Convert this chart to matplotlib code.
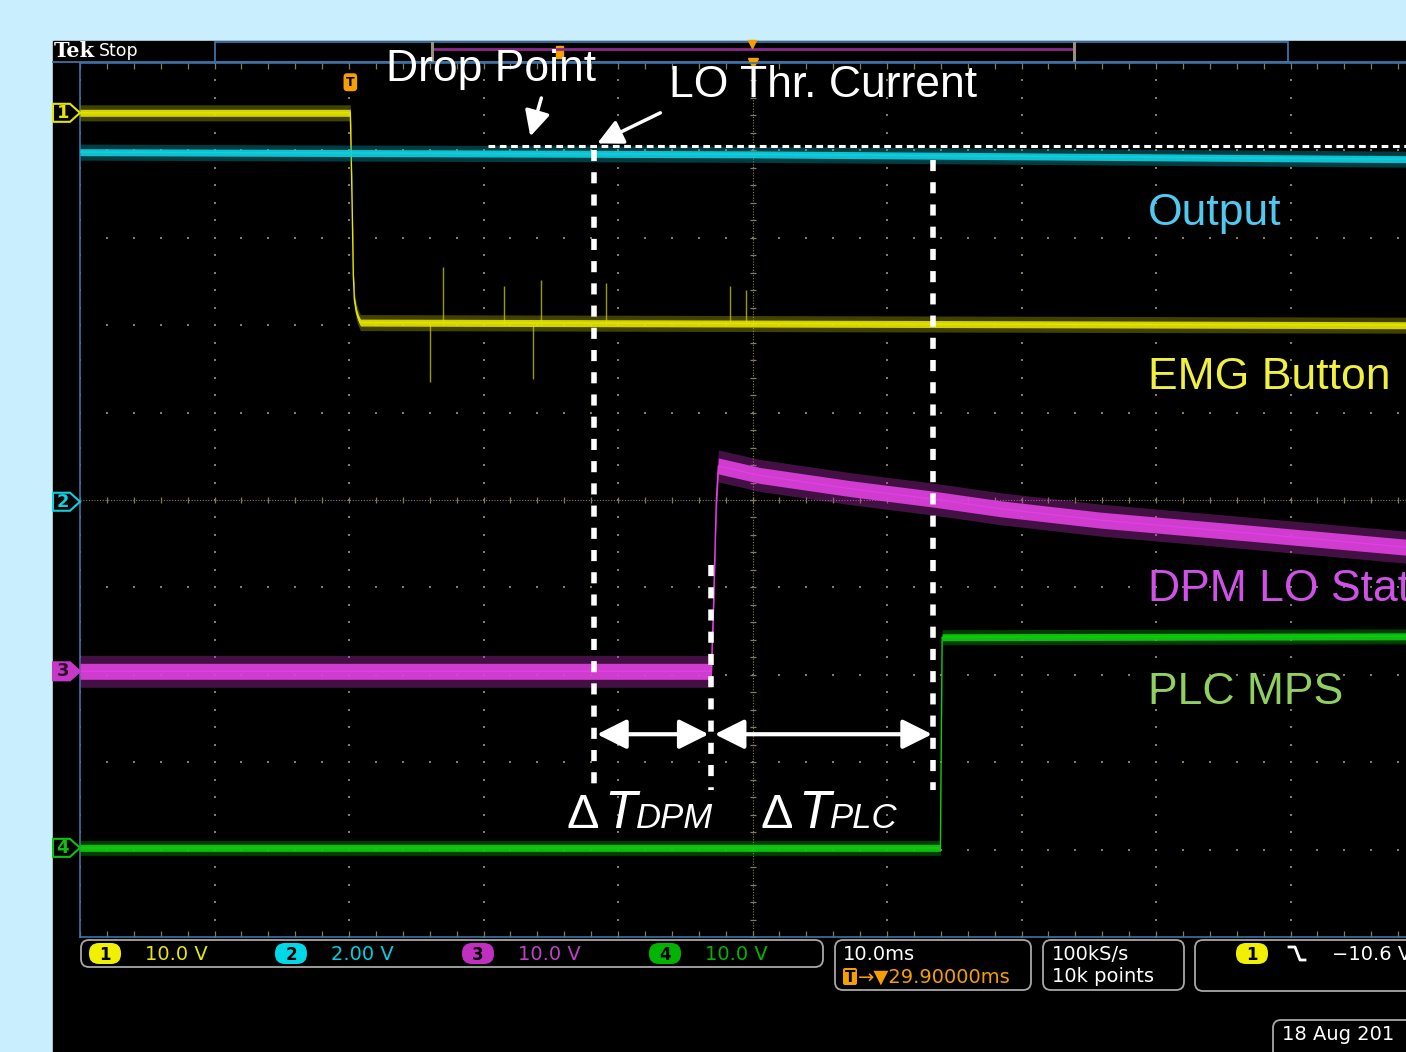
import numpy as np
import matplotlib.pyplot as plt
import matplotlib.transforms as mtransforms
from matplotlib.patches import Rectangle, FancyBboxPatch, Polygon

# ---- scope settings -------------------------------------------------------
# time in ms relative to the trigger, 10 ms/div, trigger 29.9 ms left of centre
t_per_div = 10.0
t_center = 29.9
n_xdiv = 10

# volts/div and ground-marker position (divisions) for CH1..CH4
ch_scale = [10.0, 2.0, 10.0, 10.0]
ch_offset = [4.43, -0.02, -1.96, -3.98]
ch_names = ['1', '2', '3', '4']
ch_scale_text = ['10.0 V', '2.00 V', '10.0 V', '10.0 V']

# CH1: EMG button (V)
emg_t = [-20.1, 0.0, 0.07, 0.15, 0.22, 0.30, 0.45, 0.60, 0.75, 78.5]
emg_v = [0.0, 0.0, -5.4, -12.0, -18.5, -21.4, -22.8, -23.5, -24.0, -24.3]
emg_spike_t = [5.95, 6.9, 11.4, 13.6, 14.2, 19.0, 28.2, 29.4]
emg_spike_v = [-30.8, -17.6, -19.8, -30.4, -19.1, -19.5, -19.8, -20.3]

# CH2: output (V) and LO threshold current level
out_t = [-20.1, 29.9, 78.5]
out_v = [8.00, 7.95, 7.84]
lo_thr_v = 8.15
lo_thr_start = 10.2

# CH3: DPM LO status (V)
dpm_t = [-20.1, 26.84, 26.99, 27.21, 27.36, 30.48, 37.17, 43.35, 48.33,
         55.76, 66.9, 78.5]
dpm_v = [0.0, 0.0, 7.0, 19.6, 23.5, 22.4, 20.9, 19.7, 18.6, 17.3, 15.8, 14.2]

# CH4: PLC MPS (V)
plc_t = [-20.1, 43.87, 44.0, 78.5]
plc_v = [0.0, 0.0, 24.1, 24.2]

# event times (ms)
t_drop = 18.14
t_dpm = 26.84
t_plc = 43.35

# ---- colours --------------------------------------------------------------
c_yel, c_cyan, c_mag, c_grn = '#e4e400', '#10d0e0', '#e040e0', '#10cc10'
c_grid = '#857b62'
c_frame = '#3d72a6'
c_orange = '#f5a000'

W, H = 1406, 1052
px_per_div_x = 134.5
px_per_div_y = 87.4

fig = plt.figure(figsize=(W / 100, H / 100), dpi=100, facecolor='#c9eefd')

# background axes in pixel units for the scope chrome
bg = fig.add_axes([0, 0, 1, 1], zorder=0)
bg.set_xlim(0, W)
bg.set_ylim(H, 0)
bg.axis('off')
bg.add_patch(Rectangle((53, 41), W - 53, H - 41, color='black'))

# graticule axes
ax = fig.add_axes([80 / W, (H - 937) / H, (W - 80) / W, 874 / H], zorder=1)
ax.set_facecolor('black')
t_left = t_center - t_per_div * n_xdiv / 2
ax.set_xlim(t_left, t_left + (W - 80) / px_per_div_x * t_per_div)
ax.set_ylim(-5, 5)
ax.set_xticks([])
ax.set_yticks([])
ax.spines['right'].set_visible(False)
for s in ['left', 'top', 'bottom']:
    ax.spines[s].set_color(c_frame)
    ax.spines[s].set_linewidth(1.2)

# grid dots
major_t = t_left + t_per_div * np.arange(n_xdiv + 1)
minor_y = np.linspace(-5, 5, 51)
minor_t = t_left + 2.0 * np.arange(51)
for tm in major_t:
    if abs(tm - t_center) < 1e-6:
        continue
    ax.scatter(np.full_like(minor_y, tm), minor_y, s=2.5, c=c_grid,
               marker='s', lw=0)
for yd in range(-4, 5):
    if yd == 0:
        continue
    ax.scatter(minor_t, np.full_like(minor_t, yd), s=2.5, c=c_grid,
               marker='s', lw=0)
ax.axvline(t_center, ls=(0, (1, 1.5)), lw=0.8, color=c_grid)
ax.axhline(0, ls=(0, (1, 1.5)), lw=0.8, color=c_grid)
ax.plot(np.full_like(minor_y, t_center), minor_y, ls='none', marker='_',
        ms=5, mew=0.9, color=c_grid)
ax.plot(minor_t, np.zeros_like(minor_t), ls='none', marker='|',
        ms=5, mew=0.9, color=c_grid)
ax.plot(minor_t, np.full_like(minor_t, 5), ls='none', marker=3, ms=4,
        mew=0.9, color=c_grid, clip_on=False)
ax.plot(minor_t, np.full_like(minor_t, -5), ls='none', marker=2, ms=4,
        mew=0.9, color=c_grid, clip_on=False)


def to_div(v, ch):
    return ch_offset[ch] + np.asarray(v, dtype=float) / ch_scale[ch]


def band(t, d, core_px, outer_px, core_c, outer_c, z=3):
    t = np.asarray(t, dtype=float)
    ho = outer_px / 2 / px_per_div_y
    hc = core_px / 2 / px_per_div_y
    ax.fill_between(t, d - ho, d + ho, color=outer_c, alpha=0.35, lw=0,
                    zorder=z)
    ax.fill_between(t, d - hc, d + hc, color=core_c, alpha=0.9, lw=0,
                    zorder=z)
    ax.plot(t, d, color=core_c, lw=1, zorder=z)


# traces
emg_d = to_div(emg_v, 0)
base_d = to_div(emg_v[-1], 0)
ax.vlines(emg_spike_t, base_d, to_div(emg_spike_v, 0), color='#9a9a00',
          lw=1, zorder=3)
band(emg_t, emg_d, 7, 16, c_yel, '#c0c000')
band(out_t, to_div(out_v, 1), 7, 16, c_cyan, '#00b0c0')
band(dpm_t, to_div(dpm_v, 2), 16, 32, c_mag, '#c030c0')
band(plc_t, to_div(plc_v, 3), 7, 15, c_grn, '#00b000')

# LO threshold level
thr_d = to_div(lo_thr_v, 1)
ax.plot([lo_thr_start, ax.get_xlim()[1]], [thr_d, thr_d], color='white',
        lw=2.2, ls=(0, (2.2, 1.5)), dash_capstyle='butt', zorder=5)

# event markers
lw_dash = 4
y_bot = -3.32
for tv, ytop in [(t_drop, thr_d - 0.05), (t_dpm, -0.74), (t_plc, 3.89)]:
    ax.plot([tv, tv], [ytop, y_bot], color='white', lw=lw_dash,
            ls=(0, (2, 2)), dash_capstyle='butt', zorder=6)

y_arr = -2.68
arrow_kw = dict(arrowstyle='<|-|>,head_length=0.6,head_width=0.3',
                color='white', lw=3, mutation_scale=30, shrinkA=0, shrinkB=0)
ax.annotate('', xy=(t_dpm - 0.2, y_arr), xytext=(t_drop + 0.2, y_arr),
            arrowprops=arrow_kw, zorder=7)
ax.annotate('', xy=(t_plc - 0.1, y_arr), xytext=(t_dpm + 0.25, y_arr),
            arrowprops=arrow_kw, zorder=7)

label_font = 'Liberation Sans'
for x0, sub in [(16.06, 'DPM'), (30.48, 'PLC')]:
    ax.text(x0, -3.75, '\u0394', color='white', fontsize=35,
            family=label_font, va='baseline', ha='left')
    ax.text(x0 + 2.85, -3.75, 'T', color='white', fontsize=38,
            family=label_font, style='italic', va='baseline', ha='left')
    ax.text(x0 + 5.15, -3.75, sub, color='white', fontsize=25,
            family=label_font, style='italic', va='baseline', ha='left')

# callouts
ax.text(2.68, 4.79, 'Drop Point', color='white', fontsize=32,
        family=label_font, va='baseline')
ax.text(23.72, 4.61, 'LO Thr. Current', color='white', fontsize=32,
        family=label_font, va='baseline')
pt_kw = dict(arrowstyle='-|>,head_length=0.7,head_width=0.35', color='white',
             lw=2.5, mutation_scale=22, shrinkA=0, shrinkB=0)
ax.annotate('', xy=(13.38, 4.16), xytext=(14.2, 4.60), arrowprops=pt_kw)
ax.annotate('', xy=(18.36, 4.08), xytext=(23.05, 4.43), arrowprops=pt_kw)

# trace names
names = [('Output', 3.15, '#50c8f0'), ('EMG Button', 1.27, '#f0f040'),
         ('DPM LO Status', -1.16, '#d050e8'), ('PLC MPS', -2.33, '#90d060')]
for txt, yb, col in names:
    ax.text(59.33, yb, txt, color=col, fontsize=32, family=label_font,
            va='baseline', clip_on=True)

# trigger position marker
ax.text(0, 4.78, 'T', color='black', fontsize=9, fontweight='bold',
        ha='center', va='center', zorder=8,
        bbox=dict(boxstyle='round,pad=0.2,rounding_size=0.3', fc=c_orange,
                  ec='none'))
ax.plot([t_center], [5.0], marker='v', ms=7, color=c_orange, clip_on=False,
        zorder=2)

# channel ground markers on the left edge
blend = mtransforms.blended_transform_factory(ax.transAxes, ax.transData)
x0f, x1f, x2f = (53 - 80) / (W - 80), (70 - 80) / (W - 80), 0.0
hm = 9 / px_per_div_y
mk_cols = [c_yel, c_cyan, '#c838c8', '#10c010']
for i, yd in enumerate(ch_offset):
    filled = i == 2
    poly = Polygon([(x0f, yd - hm), (x1f, yd - hm), (x2f, yd), (x1f, yd + hm),
                    (x0f, yd + hm)], closed=True, transform=blend,
                   clip_on=False, fc=mk_cols[i] if filled else 'black',
                   ec=mk_cols[i], lw=1.5, zorder=9)
    ax.add_patch(poly)
    ax.text((x0f + x1f) / 2 + 0.001, yd, ch_names[i], transform=blend,
            ha='center', va='center', fontsize=13, fontweight='bold',
            color='#301030' if filled else mk_cols[i], zorder=10)

# ---- header bar -----------------------------------------------------------
bg.text(54, 51, 'Tek', color='white', fontsize=15, fontweight='bold',
        family='DejaVu Serif', va='center')
bg.text(99, 51, 'Stop', color='white', fontsize=12.5, family='DejaVu Sans',
        va='center')
bg.add_patch(Rectangle((215, 41.5), 1073, 20, fc='black', ec=c_frame, lw=1.3))
bg.plot([53, W], [61.5, 61.5], color=c_frame, lw=1.3)
bg.plot([432, 1074], [49, 49], color='#8c2a8c', lw=2)
for xb in (432, 1074):
    bg.plot([xb, xb], [43, 60], color='#9a9080', lw=2.2)
bg.add_patch(Rectangle((556, 46), 7, 12, color=c_orange))
bg.plot([752], [44], marker='v', ms=6, color=c_orange)

# ---- status bar -----------------------------------------------------------
box_kw = dict(boxstyle='round,pad=0,rounding_size=8', fc='none',
              ec='#a8a8a8', lw=1.3)
bg.add_patch(FancyBboxPatch((81, 940), 742, 27, **box_kw))
bg.add_patch(FancyBboxPatch((835, 940), 196, 50, **box_kw))
bg.add_patch(FancyBboxPatch((1043, 940), 141, 50, **box_kw))
bg.add_patch(FancyBboxPatch((1195, 940), 260, 51, **box_kw))
bg.add_patch(FancyBboxPatch((1273, 1020), 200, 60, **box_kw))

pill_cols = ['#f0f000', '#00d8e8', '#c030c0', '#00b400']
txt_cols = ['#e8e800', '#00d0e0', '#c040c8', '#00b400']
pill_x = [105, 291, 478, 665]
label_x = [145, 331, 518, 705]
st_font = dict(family='DejaVu Sans', fontsize=14)


def pill(xc, yc, col, num):
    bg.add_patch(FancyBboxPatch((xc - 16, yc - 10.5), 32, 21,
                                boxstyle='round,pad=0,rounding_size=10',
                                fc=col, ec='none'))
    bg.text(xc, yc + 1, num, color='black', fontsize=12, fontweight='bold',
            ha='center', va='center')


for i in range(4):
    pill(pill_x[i], 953.5, pill_cols[i], ch_names[i])
    bg.text(label_x[i], 954, ch_scale_text[i], color=txt_cols[i],
            va='center', **st_font)

bg.text(843, 954, '10.0ms', color='white', va='center', **st_font)
bg.add_patch(FancyBboxPatch((843, 968), 14, 17,
                            boxstyle='round,pad=0,rounding_size=2',
                            fc=c_orange, ec='none'))
bg.text(850, 977, 'T', color='black', fontsize=11, fontweight='bold',
        ha='center', va='center')
bg.text(858, 977, '\u2192\u25bc29.90000ms', color=c_orange, va='center',
        **st_font)
bg.text(1052, 954, '100kS/s', color='white', va='center', **st_font)
bg.text(1052, 977, '10k points', color='white', va='center', **st_font)
pill(1252, 953.5, pill_cols[0], '1')
bg.plot([1289, 1295, 1300, 1305], [947, 947, 960, 960], color='white', lw=2)
bg.text(1332, 954, '\u221210.6 V', color='white', va='center', **st_font)
bg.text(1282, 1034, '18 Aug 201', color='white', va='center', **st_font)

fig.savefig('out.png', dpi=100, facecolor=fig.get_facecolor())
